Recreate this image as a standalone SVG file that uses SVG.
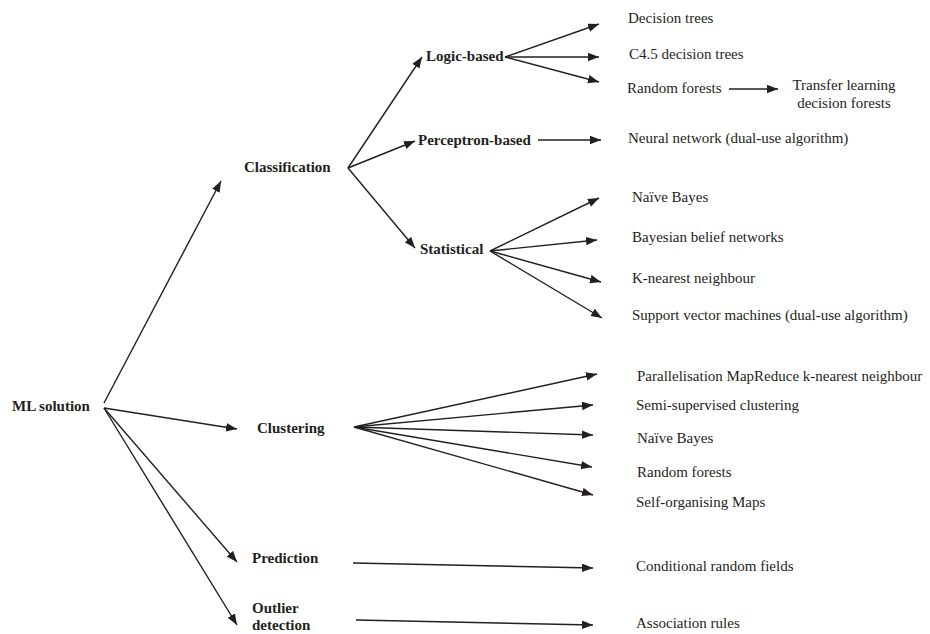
<svg xmlns="http://www.w3.org/2000/svg" width="930" height="634" viewBox="0 0 930 634">
<style>
text{font-family:"Liberation Serif","Times New Roman","DejaVu Serif",serif;font-size:15px;fill:#231f20}
.b{font-weight:bold}
.c line{stroke:#231f20;stroke-width:1.4;marker-end:url(#ah)}
</style>
<defs>
<marker id="ah" markerUnits="userSpaceOnUse" markerWidth="12" markerHeight="10" refX="11" refY="4.25" orient="auto">
<path d="M0,0 L11,4.25 L0,8.5 Z" fill="#231f20"/>
</marker>
</defs>
<rect width="930" height="634" fill="#fff"/>
<g id="connectors">
<g class="c">
<line x1="104" y1="403" x2="221" y2="181"/>
<line x1="104" y1="408" x2="237" y2="429"/>
<line x1="104" y1="408" x2="237" y2="562"/>
<line x1="104" y1="408" x2="237" y2="625"/>
<line x1="348" y1="168" x2="422" y2="57"/>
<line x1="348" y1="168" x2="415" y2="141"/>
<line x1="348" y1="168" x2="415" y2="248"/>
<line x1="505" y1="57" x2="599" y2="24"/>
<line x1="505" y1="57" x2="599" y2="57"/>
<line x1="505" y1="57" x2="599" y2="82"/>
<line x1="729" y1="89" x2="778" y2="89"/>
<line x1="538" y1="140" x2="601" y2="140"/>
<line x1="490" y1="251" x2="599" y2="198"/>
<line x1="490" y1="251" x2="597" y2="240"/>
<line x1="490" y1="251" x2="601" y2="282"/>
<line x1="490" y1="251" x2="602" y2="318"/>
<line x1="354" y1="427" x2="597" y2="374"/>
<line x1="354" y1="427" x2="593" y2="405"/>
<line x1="354" y1="427" x2="593" y2="435"/>
<line x1="354" y1="427" x2="592" y2="467"/>
<line x1="354" y1="427" x2="593" y2="495"/>
<line x1="353" y1="563" x2="593" y2="568"/>
<line x1="356" y1="620" x2="593" y2="625"/>
</g>
</g>
<g id="ml"><text class="b" x="12" y="411">ML solution</text></g>
<g id="classification"><text class="b" x="244" y="172">Classification</text></g>
<g id="clustering"><text class="b" x="257" y="433">Clustering</text></g>
<g id="prediction"><text class="b" x="252" y="563">Prediction</text></g>
<g id="outlier"><text class="b" x="252" y="613">Outlier</text><text class="b" x="252" y="630">detection</text></g>
<g id="logic"><text class="b" x="426" y="61">Logic-based</text></g>
<g id="perceptron"><text class="b" x="418" y="145">Perceptron-based</text></g>
<g id="statistical"><text class="b" x="420" y="254">Statistical</text></g>
<g id="dt"><text x="628" y="23">Decision trees</text></g>
<g id="c45"><text x="629" y="59">C4.5 decision trees</text></g>
<g id="rf1"><text x="627" y="93">Random forests</text></g>
<g id="tl"><text x="844" y="90" text-anchor="middle">Transfer learning</text><text x="844" y="108" text-anchor="middle">decision forests</text></g>
<g id="nn"><text x="628" y="143">Neural network (dual-use algorithm)</text></g>
<g id="nb1"><text x="632" y="202">Naïve Bayes</text></g>
<g id="bbn"><text x="632" y="242">Bayesian belief networks</text></g>
<g id="knn"><text x="632" y="283">K-nearest neighbour</text></g>
<g id="svm"><text x="632" y="320">Support vector machines (dual-use algorithm)</text></g>
<g id="pmr"><text x="637" y="381">Parallelisation MapReduce k-nearest neighbour</text></g>
<g id="ssc"><text x="636" y="410">Semi-supervised clustering</text></g>
<g id="nb2"><text x="637" y="443">Naïve Bayes</text></g>
<g id="rf2"><text x="637" y="477">Random forests</text></g>
<g id="som"><text x="636" y="507">Self-organising Maps</text></g>
<g id="crf"><text x="636" y="571">Conditional random fields</text></g>
<g id="ar"><text x="636" y="628">Association rules</text></g>
</svg>
